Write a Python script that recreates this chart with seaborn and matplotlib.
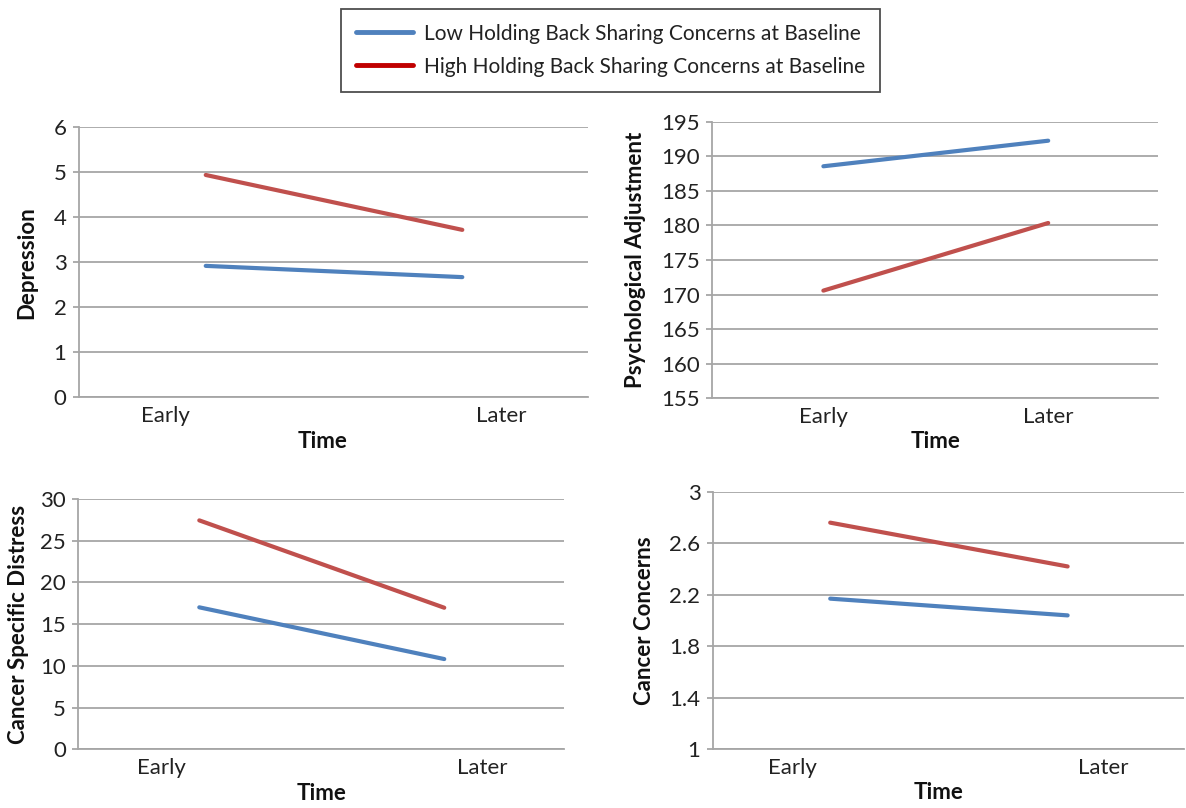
import matplotlib
matplotlib.use("Agg")
import matplotlib.pyplot as plt
import seaborn as sns
import pandas as pd

# ---------------- data ----------------
time_labels = ["Early", "Later"]
groups = ["Low Holding Back Sharing Concerns at Baseline",
          "High Holding Back Sharing Concerns at Baseline"]

depression_low = [2.92, 2.67]
depression_high = [4.94, 3.72]

psych_low = [188.55, 192.25]
psych_high = [170.57, 180.35]

distress_low = [17.02, 10.82]
distress_high = [27.44, 16.97]

concerns_low = [2.17, 2.04]
concerns_high = [2.76, 2.42]

depression_ticks = [0, 1, 2, 3, 4, 5, 6]
psych_ticks = [155, 160, 165, 170, 175, 180, 185, 190, 195]
distress_ticks = [0, 5, 10, 15, 20, 25, 30]
concerns_ticks = [1, 1.4, 1.8, 2.2, 2.6, 3]
concerns_tick_labels = ["1", "1.4", "1.8", "2.2", "2.6", "3"]

# ---------------- style ----------------
sns.set_theme(style="white")
plt.rcParams["font.family"] = ["Lato", "DejaVu Sans"]

BLUE = "#4F81BD"
RED = "#C0504D"
GRID = "#A6A6A6"
palette = {groups[0]: BLUE, groups[1]: RED}

fig = plt.figure(figsize=(11.86, 8.08), dpi=100)


def make_df(low, high):
    rows = []
    for g, vals in zip(groups, [low, high]):
        for i, v in enumerate(vals):
            rows.append({"pos": i, "Time": time_labels[i], "value": v, "group": g})
    return pd.DataFrame(rows)


panels = [
    # rect, low, high, ylabel, ticks, ticklabels, xtick positions, xlabel x, xlabel y, ylabel x
    ([0.0666, 0.5083, 0.4292, 0.3342], depression_low, depression_high, "Depression",
     depression_ticks, None, [-0.159, 1.153], 0.479, -0.162, -0.103),
    ([0.6006, 0.5071, 0.3761, 0.3423], psych_low, psych_high, "Psychological Adjustment",
     psych_ticks, None, [0.0, 1.0], 0.5, -0.157, -0.173),
    ([0.0660, 0.0726, 0.4098, 0.3098], distress_low, distress_high, "Cancer Specific Distress",
     distress_ticks, None, [-0.155, 1.154], 0.5, -0.176, -0.123),
    ([0.6011, 0.0726, 0.3972, 0.3188], concerns_low, concerns_high, "Cancer Concerns",
     concerns_ticks, concerns_tick_labels, [-0.158, 1.152], 0.478, -0.167, -0.146),
]

handles = labels = None
for rect, low, high, ylab, ticks, tlabels, xt, xlx, xly, ylx in panels:
    ax = fig.add_axes(rect)
    df = make_df(low, high)
    sns.lineplot(data=df, x="pos", y="value", hue="group", palette=palette,
                 linewidth=3.0, ax=ax, legend=True)
    h, l = ax.get_legend_handles_labels()
    if handles is None:
        handles, labels = h, l
    ax.get_legend().remove()

    ax.set_xlim(-0.494, 1.49)
    ax.set_ylim(ticks[0], ticks[-1])
    ax.set_yticks(ticks)
    if tlabels is not None:
        ax.set_yticklabels(tlabels)
    ax.set_xticks(xt)
    ax.set_xticklabels(time_labels)

    ax.yaxis.grid(True, color=GRID, linewidth=1.3)
    ax.xaxis.grid(False)
    ax.set_axisbelow(True)
    for s in ["top", "right"]:
        ax.spines[s].set_visible(False)
    for s in ["left", "bottom"]:
        ax.spines[s].set_color(GRID)
        ax.spines[s].set_linewidth(1.3)

    ax.tick_params(axis="y", which="both", left=True, length=4, width=1.3,
                   color=GRID, labelsize=16, pad=5, labelcolor="#222222")
    ax.tick_params(axis="x", which="both", bottom=False, length=0,
                   labelsize=16, pad=6.5, labelcolor="#222222")

    ax.set_xlabel("Time", fontsize=16, fontweight="bold", color="#111111")
    ax.set_ylabel(ylab, fontsize=16, fontweight="bold", color="#111111")
    ax.xaxis.set_label_coords(xlx, xly)
    ax.xaxis.label.set_va("center")
    ax.yaxis.set_label_coords(ylx, 0.5)
    ax.yaxis.label.set_va("center")

# legend proxies from seaborn's handles
leg_colors = [BLUE, "#C00000"]
for hd, c in zip(handles, leg_colors):
    hd.set_color(c)
    hd.set_linewidth(3.5)

leg = fig.legend(handles, labels, loc="center", bbox_to_anchor=(0.5148, 0.938),
                 fontsize=15, frameon=True, fancybox=False, handlelength=2.74,
                 handletextpad=0.53, labelspacing=0.62, borderpad=0.72,
                 borderaxespad=0)
leg.get_frame().set_edgecolor("#222222")
leg.get_frame().set_linewidth(1.3)
for t in leg.get_texts():
    t.set_color("#222222")

fig.savefig("out.png", dpi=100)
